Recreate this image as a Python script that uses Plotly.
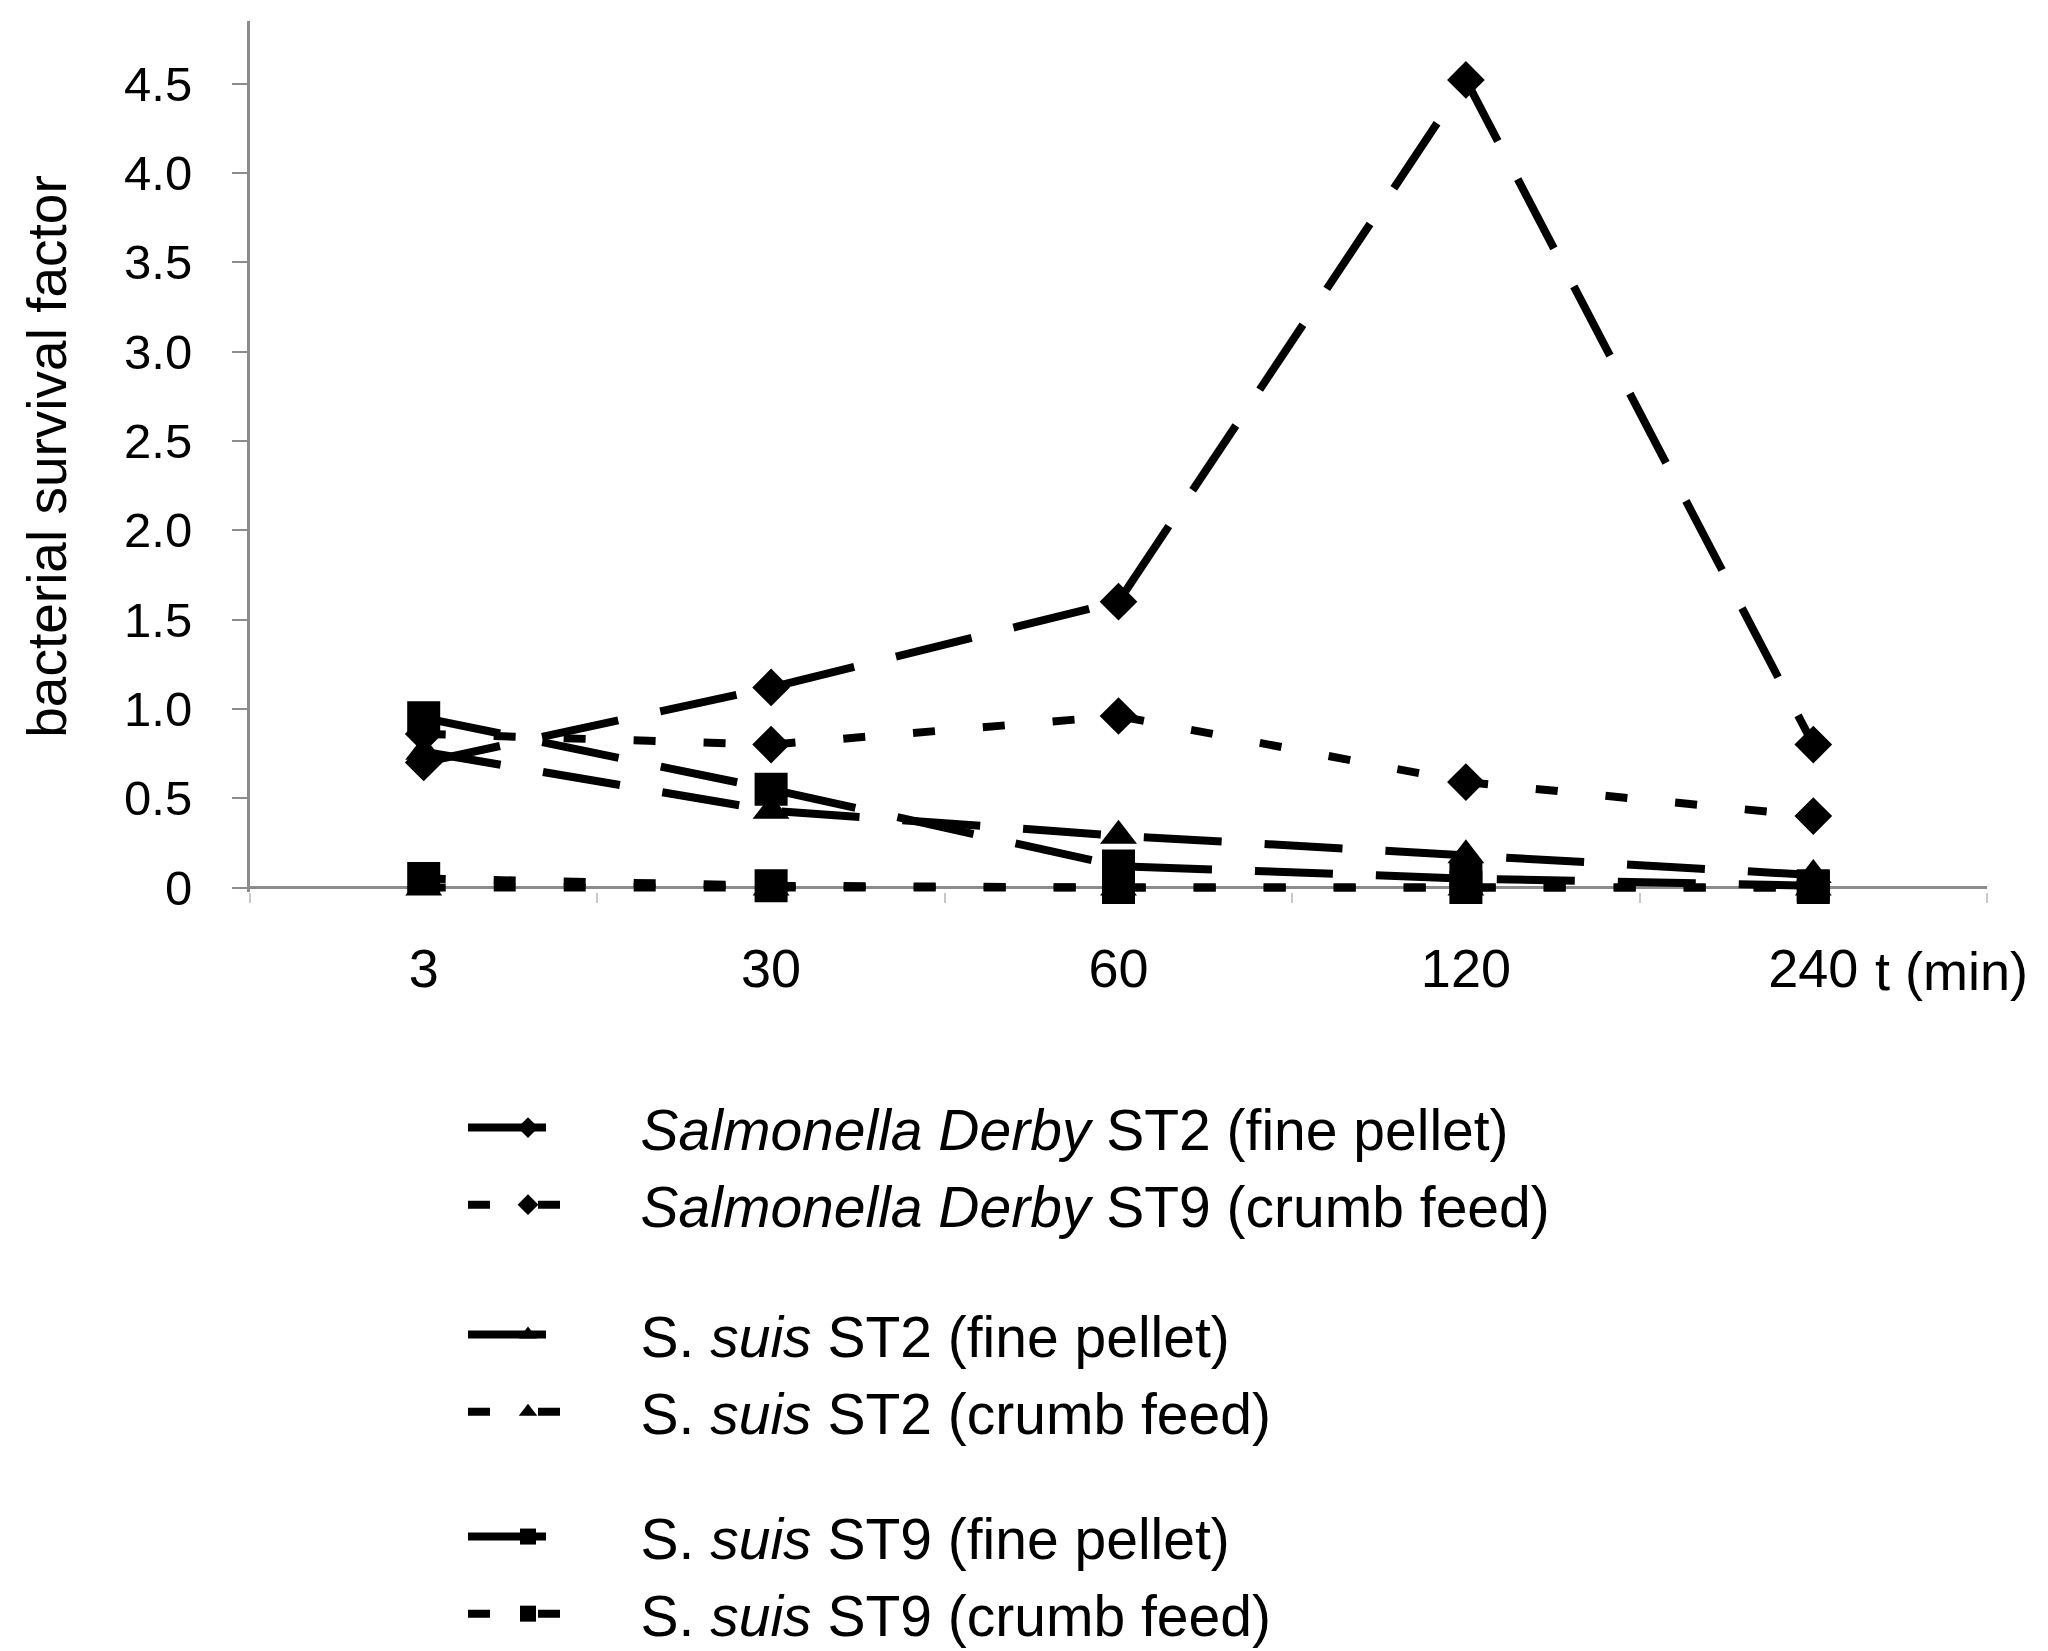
import plotly.graph_objects as go

times = ["3", "30", "60", "120", "240"]

derby_st2_fine = [0.70, 1.12, 1.60, 4.52, 0.80]
derby_st9_crumb = [0.86, 0.80, 0.96, 0.59, 0.40]
suis_st2_fine = [0.76, 0.43, 0.29, 0.18, 0.07]
suis_st2_crumb = [0.0, 0.0, 0.0, 0.0, 0.0]
suis_st9_fine = [0.95, 0.55, 0.12, 0.05, 0.01]
suis_st9_crumb = [0.05, 0.01, 0.0, 0.0, 0.0]

ytick_vals = [0, 0.5, 1.0, 1.5, 2.0, 2.5, 3.0, 3.5, 4.0, 4.5]
ytick_text = ["0", "0.5", "1.0", "1.5", "2.0", "2.5", "3.0", "3.5", "4.0", "4.5"]

FONT = "Liberation Sans, Arial, sans-serif"
long_dash = "78px,43px"
short_dash = "22px,48px"
pad = "\u00a0\u00a0\u00a0"  # gap between legend symbol and text

series = [
    ("<i>Salmonella Derby</i> ST2 (fine pellet)", derby_st2_fine, long_dash, "diamond", 29, "legend"),
    ("<i>Salmonella Derby</i> ST9 (crumb feed)", derby_st9_crumb, short_dash, "diamond", 29, "legend"),
    ("S. <i>suis</i> ST2 (fine pellet)", suis_st2_fine, long_dash, "triangle-up", 32, "legend2"),
    ("S. <i>suis</i> ST2 (crumb feed)", suis_st2_crumb, short_dash, "triangle-up", 32, "legend2"),
    ("S. <i>suis</i> ST9 (fine pellet)", suis_st9_fine, long_dash, "square", 33, "legend3"),
    ("S. <i>suis</i> ST9 (crumb feed)", suis_st9_crumb, short_dash, "square", 33, "legend3"),
]

fig = go.Figure()
for name, vals, dash, sym, size, leg in series:
    fig.add_trace(go.Scatter(
        x=times, y=vals, name=pad + name, mode="lines+markers",
        line=dict(color="black", width=8, dash=dash),
        marker=dict(symbol=sym, size=size, color="black"),
        legend=leg, cliponaxis=False,
    ))

# plot area in pixels: x 242..1979, y 13..884 (value 0 sits at ~880)
PLOT_BOTTOM = 884
PLOT_H = PLOT_BOTTOM - 13


def legend_box(top_px):
    return dict(
        xref="paper", yref="paper",
        x=(455 - 242) / 1737, y=(PLOT_BOTTOM - top_px) / PLOT_H,
        xanchor="left", yanchor="top",
        itemwidth=120, font=dict(size=57, family=FONT),
        bgcolor="rgba(0,0,0,0)",
    )


fig.update_layout(
    width=2048, height=1651,
    paper_bgcolor="white", plot_bgcolor="white",
    margin=dict(l=242, r=69, t=13, b=1651 - PLOT_BOTTOM, autoexpand=False),
    font=dict(family=FONT, color="black", size=52),
    showlegend=True,
    legend=legend_box(1076),
    legend2=legend_box(1283),
    legend3=legend_box(1485),
)

fig.update_xaxes(
    type="category", range=[-0.5, 4.5],
    showline=False, showgrid=False, zeroline=False,
    ticks="outside", tickson="boundaries", ticklen=10, tickcolor="#c8c8c8", tickwidth=2,
    tickfont=dict(size=54), ticklabelstandoff=40, tickangle=0,
)
fig.update_yaxes(
    range=[-0.025, 4.85],
    showline=True, linecolor="#8c8c8c", linewidth=3,
    showgrid=False,
    zeroline=True, zerolinecolor="#8c8c8c", zerolinewidth=3,
    ticks="outside", ticklen=15, tickcolor="#8c8c8c", tickwidth=2,
    tickvals=ytick_vals, ticktext=ytick_text,
    tickfont=dict(size=49), ticklabelstandoff=30,
    title=dict(text="bacterial survival factor", font=dict(size=55), standoff=40),
)

fig.add_annotation(
    text="t (min)", xref="paper", yref="paper",
    x=(1865 - 242) / 1737, y=0, yshift=-79,
    xanchor="left", yanchor="middle", showarrow=False,
    font=dict(size=54, family=FONT, color="black"),
)

fig.write_html("out.html")
